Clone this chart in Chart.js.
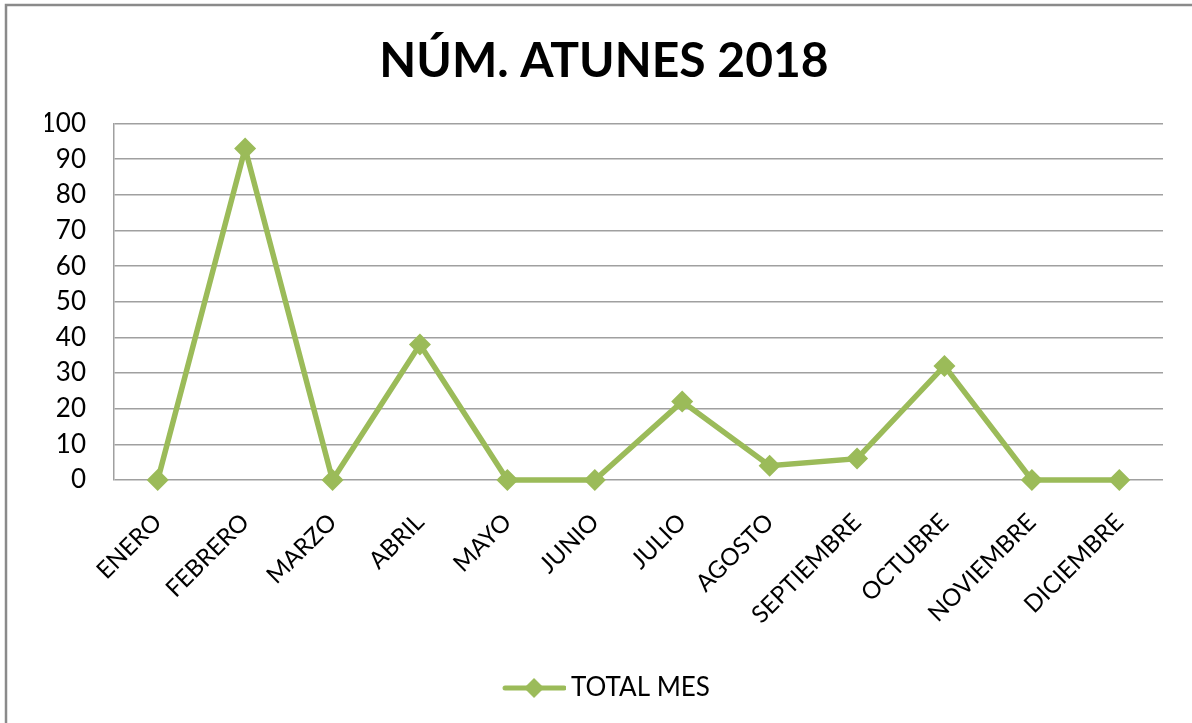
<!DOCTYPE html>
<html>
<head>
<meta charset="utf-8">
<script src="https://cdn.jsdelivr.net/npm/chart.js@4"></script>
<style>
  body { margin: 0; background: #fff; }
  #wrap { width: 1192px; height: 723px; position: relative; }
</style>
</head>
<body>
<div id="wrap"><canvas id="chart" width="1192" height="723"></canvas></div>
<script>
// Num. atunes 2018

const meses = ["ENERO", "FEBRERO", "MARZO", "ABRIL", "MAYO", "JUNIO",
  "JULIO", "AGOSTO", "SEPTIEMBRE", "OCTUBRE", "NOVIEMBRE", "DICIEMBRE"];

const totalMes = [0, 93, 0, 38, 0, 0, 22, 4, 6, 32, 0, 0];

const yTicks = [0, 10, 20, 30, 40, 50, 60, 70, 80, 90, 100];

const verde = "#9BBB59";
const fuente = "Lato, 'Open Sans', sans-serif";


// little line + diamond for the legend
function legendMark(){
  const c = document.createElement("canvas");
  c.width = 76;
  c.height = 24;
  const g = c.getContext("2d");
  g.strokeStyle = verde;
  g.lineWidth = 5;
  g.lineCap = "round";
  g.beginPath();
  g.moveTo(15, 12);
  g.lineTo(74, 12);
  g.stroke();
  g.fillStyle = verde;
  g.beginPath();
  g.moveTo(44, 2);
  g.lineTo(54, 12);
  g.lineTo(44, 22);
  g.lineTo(34, 12);
  g.closePath();
  g.fill();
  return c;
}


// grey frame round the chart (only top and left show in the picture)
const marco = {
  id: "marco",
  beforeDraw(chart){
    const ctx = chart.ctx;
    ctx.save();
    ctx.fillStyle = "#fff";
    ctx.fillRect(0, 0, chart.width, chart.height);
    ctx.strokeStyle = "#8a8a8a";
    ctx.lineWidth = 2.5;
    ctx.beginPath();
    ctx.moveTo(6, chart.height + 5);
    ctx.lineTo(6, 5);
    ctx.lineTo(chart.width + 5, 5);
    ctx.stroke();
    ctx.restore();
  }
};


const mark = legendMark();

new Chart(document.getElementById("chart"), {
  type: "line",
  data: {
    labels: meses,
    datasets: [{
      label: "TOTAL MES",
      data: totalMes,
      borderColor: verde,
      backgroundColor: verde,
      borderWidth: 5.5,
      pointStyle: "rectRot",
      pointRadius: 11,
      pointBorderWidth: 0,
      pointBackgroundColor: verde,
      tension: 0,
      clip: false
    }]
  },
  options: {
    responsive: false,
    animation: false,
    layout: {
      padding: { left: 45, right: 29, top: 0, bottom: 12 }
    },
    plugins: {
      title: {
        display: true,
        text: "NÚM. ATUNES 2018",
        color: "#000",
        font: { family: fuente, size: 48, weight: "bold" },
        padding: { top: 33, bottom: 33 }
      },
      legend: {
        position: "bottom",
        labels: {
          color: "#000",
          font: { family: fuente, size: 26 },
          usePointStyle: true,
          pointStyleWidth: 60,
          padding: 8,
          generateLabels(chart){
            return [{
              text: "TOTAL MES",
              pointStyle: mark,
              fillStyle: verde,
              strokeStyle: verde,
              lineWidth: 0,
              datasetIndex: 0
            }];
          }
        }
      },
      tooltip: { enabled: false }
    },
    scales: {
      x: {
        offset: true,
        grid: { display: false, drawTicks: false },
        border: { display: false },
        ticks: {
          color: "#000",
          font: { family: fuente, size: 24 },
          minRotation: 45,
          maxRotation: 45,
          padding: 28
        },
        afterFit(scale){ scale.height = 187; }
      },
      y: {
        min: 0,
        max: 100,
        afterBuildTicks(scale){
          scale.ticks = yTicks.map(v => ({ value: v }));
        },
        grid: { color: "#a0a0a0", lineWidth: 1.5, drawTicks: false },
        border: { display: true, color: "#a0a0a0", width: 1.5 },
        ticks: {
          color: "#000",
          font: { family: fuente, size: 26 },
          padding: 28
        },
        afterFit(scale){ scale.width = 69; }
      }
    }
  },
  plugins: [marco]
});
</script>
</body>
</html>
